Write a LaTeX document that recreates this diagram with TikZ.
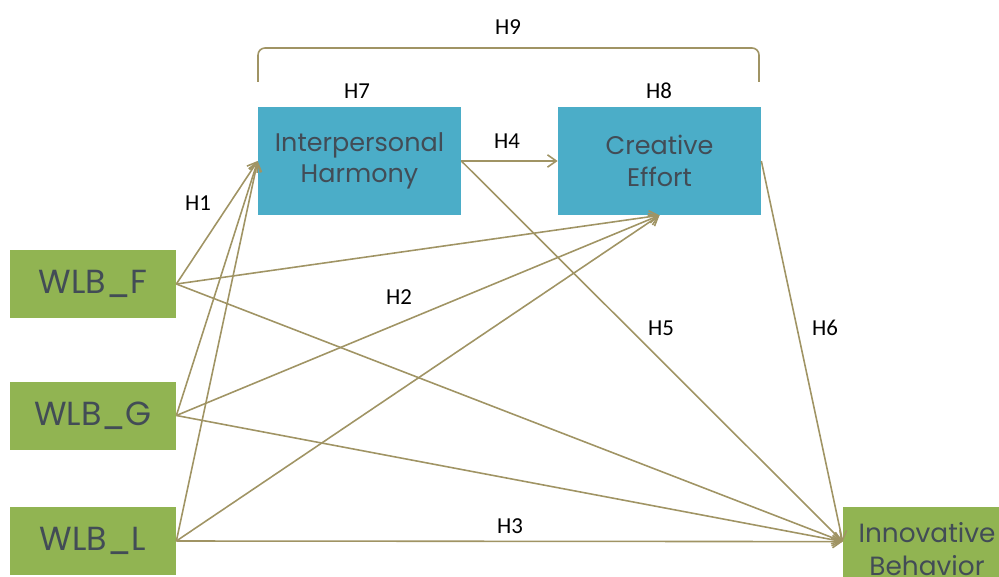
\documentclass[tikz,border=0pt]{standalone}
\usepackage{fontspec}
\setmainfont{Poppins}
\newfontfamily\hypfont{Carlito}
\usetikzlibrary{arrows.meta}

\definecolor{boxgreen}{RGB}{145,180,82}
\definecolor{boxblue}{RGB}{75,173,200}
\definecolor{boxtext}{RGB}{66,76,86}
\definecolor{pathcol}{RGB}{160,148,100}

\begin{document}
\begin{tikzpicture}[x = 0.2mm, y = -0.2mm,
		wlb/.style = {rectangle, fill = boxgreen, text = boxtext, minimum width = 3.32cm, minimum height = 1.36cm, font = \fontsize{19}{21}\selectfont},
		med/.style = {rectangle, fill = boxblue, text = boxtext, minimum width = 4.06cm, minimum height = 2.16cm, align = center, font = \fontsize{14.5}{18}\selectfont},
		outc/.style = {rectangle, fill = boxgreen, text = boxtext, minimum width = 3.36cm, minimum height = 1.68cm, align = center, font = \fontsize{15}{19}\selectfont},
		hyp/.style = {font = \hypfont\fontsize{13}{15}\selectfont},
		path/.style = {draw = pathcol, line width = 0.9pt, -{Straight Barb[length = 5pt, width = 7pt]}},
		bracket/.style = {draw = pathcol, line width = 0.9pt, rounded corners = 4pt}]
		
		\clip (0,0) rectangle (999,577);
		
		\node [wlb] (F) at (93,284) {WLB\_F};
		\node [wlb] (G) at (93,415.5) {WLB\_G};
		\node [wlb] (L) at (93,541) {WLB\_L};
		\node [med] (IH) at (359.5,161) {Interpersonal\\Harmony};
		\node [med] (CE) at (659.5,161) {Creative\\Effort};
		\node [outc] (IB) at (927,549) {Innovative\\Behavior};
		
		\draw [path] (F.east) -- (IH.west);
		\draw [path] (G.east) -- (IH.west);
		\draw [path] (L.east) -- (IH.west);
		\draw [path] (F.east) -- (CE.south);
		\draw [path] (G.east) -- (CE.south);
		\draw [path] (L.east) -- (CE.south);
		\draw [path] (F.east) -- (IB.175);
		\draw [path] (G.east) -- (IB.175);
		\draw [path] (L.east) -- (IB.175);
		\draw [path] (IH.east) -- (CE.west);
		\draw [path] (IH.east) -- (IB.175);
		\draw [path] (CE.east) -- (IB.175);
		
		\draw [bracket] (258,82) -- (258,48) -- (759,48) -- (759,82);
		
		\node [hyp] (h1) at (198,203) {H1};
		\node [hyp] (h2) at (399,297) {H2};
		\node [hyp] (h3) at (510,526) {H3};
		\node [hyp] (h4) at (507,141) {H4};
		\node [hyp] (h5) at (661,328) {H5};
		\node [hyp] (h6) at (825,328) {H6};
		\node [hyp] (h7) at (357,91) {H7};
		\node [hyp] (h8) at (659,91) {H8};
		\node [hyp] (h9) at (508,27) {H9};
		
		\end{tikzpicture}
\end{document}
